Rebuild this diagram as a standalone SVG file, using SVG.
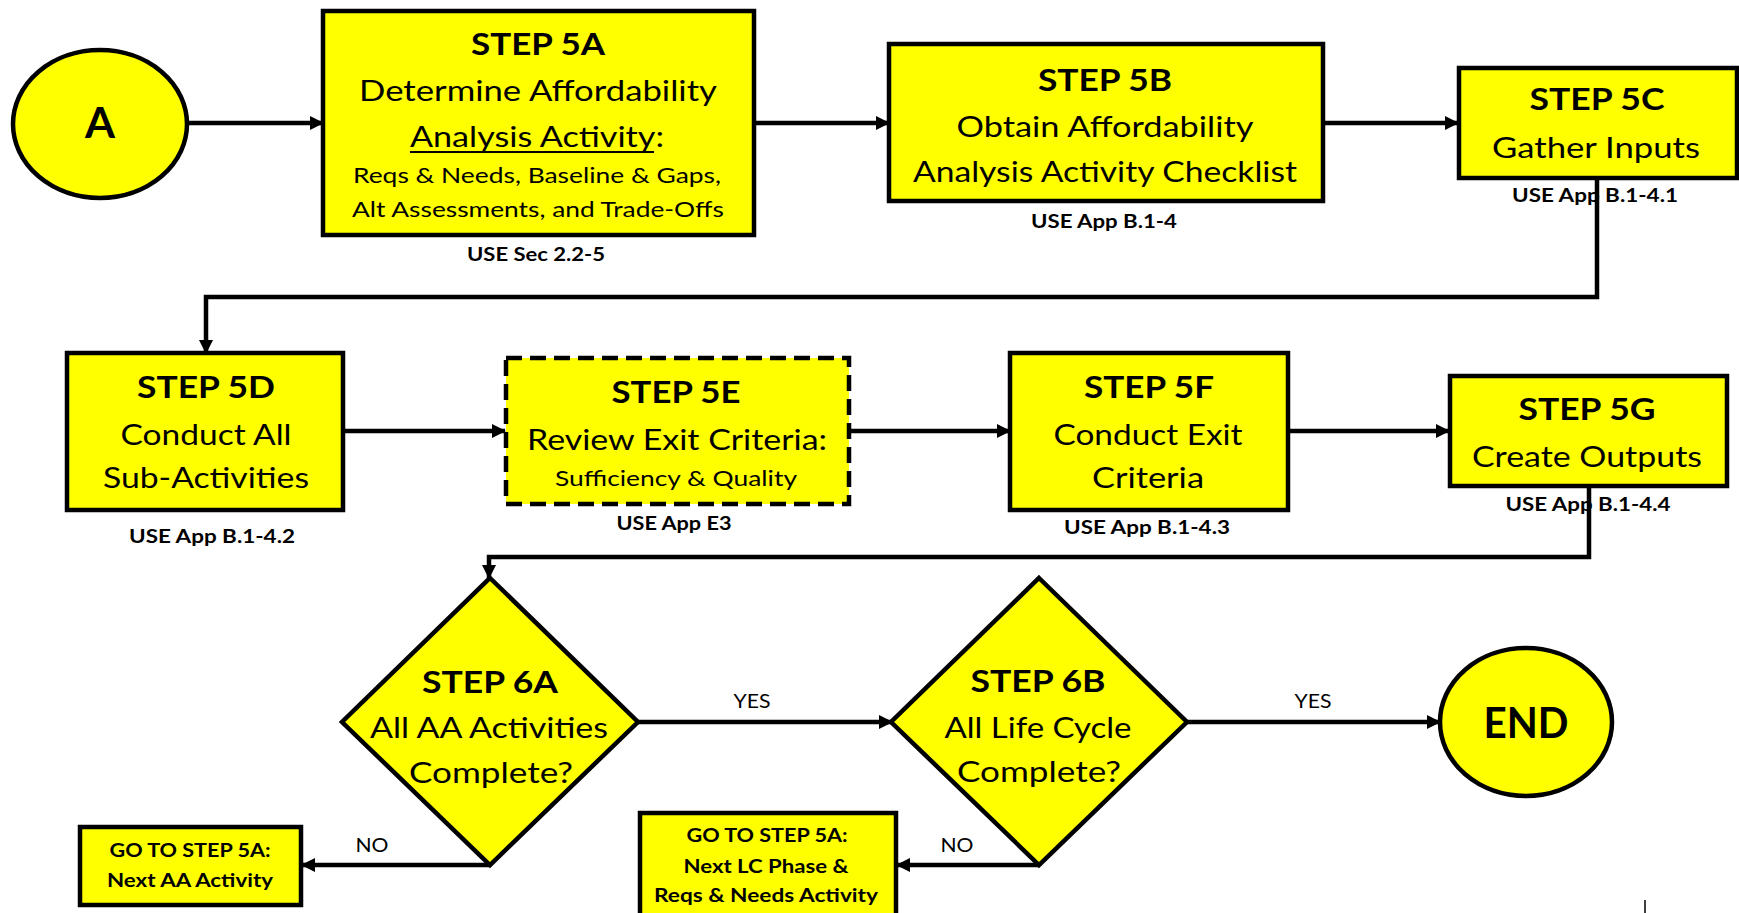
<svg xmlns="http://www.w3.org/2000/svg" width="1739" height="913" viewBox="0 0 1739 913">
<defs>
<marker id="ah" markerUnits="userSpaceOnUse" markerWidth="14" markerHeight="14" refX="13" refY="7" orient="auto">
<path d="M0,0 L14,7 L0,14 z" fill="#000"/>
</marker>
<style>
.n{fill:#FFFF00;stroke:#000;stroke-width:4.5}
.d{fill:#FFFF00;stroke:#000;stroke-width:4.5;stroke-dasharray:16 8}
.c{fill:none;stroke:#000;stroke-width:4.5;marker-end:url(#ah)}
text{font-family:Lato,"Liberation Sans",sans-serif;fill:#000;text-anchor:middle}
.h{font-weight:bold;font-size:31px}
.t{font-size:29px}
.s{font-size:21px}
.u{font-weight:bold;font-size:19.5px}
.g{font-weight:bold;font-size:19px}
.l{font-size:19px}
.e{font-weight:bold;font-size:42px}
</style>
</defs>
<rect width="1739" height="913" fill="#fff"/>
<g id="connectors">
<path class="c" d="M187,123 H323"/>
<path class="c" d="M754,123 H889"/>
<path class="c" d="M1323,123 H1458"/>
<path class="c" d="M1597,178 V297 H206 V353"/>
<path class="c" d="M343,431 H505"/>
<path class="c" d="M848,431 H1010"/>
<path class="c" d="M1288,431 H1449"/>
<path class="c" d="M1589,486 V557 H489 V578"/>
<path class="c" d="M637,722 H892"/>
<path class="c" d="M1187,722 H1440"/>
<path class="c" d="M489,865 H302"/>
<path class="c" d="M1039,865 H897"/>
<text class="l" x="752" y="708" textLength="37" lengthAdjust="spacingAndGlyphs">YES</text>
<text class="l" x="1313" y="708" textLength="37" lengthAdjust="spacingAndGlyphs">YES</text>
<text class="l" x="372" y="852" textLength="33" lengthAdjust="spacingAndGlyphs">NO</text>
<text class="l" x="957" y="852" textLength="33" lengthAdjust="spacingAndGlyphs">NO</text>
</g>
<g id="nodeA">
<ellipse class="n" cx="100" cy="124" rx="87" ry="74" stroke-width="3"/>
<text class="e" x="100" y="138" textLength="30" lengthAdjust="spacingAndGlyphs">A</text>
</g>
<g id="step5A">
<rect class="n" x="323" y="11" width="431" height="224"/>
<text class="h" x="538" y="55" textLength="134" lengthAdjust="spacingAndGlyphs">STEP 5A</text>
<text class="t" x="538" y="101" textLength="358" lengthAdjust="spacingAndGlyphs">Determine Affordability</text>
<text class="t" x="537" y="147" textLength="254" lengthAdjust="spacingAndGlyphs">Analysis Activity:</text>
<line x1="410" y1="152" x2="654" y2="152" stroke="#000" stroke-width="2"/>
<text class="s" x="537" y="183" textLength="368" lengthAdjust="spacingAndGlyphs">Reqs &amp; Needs, Baseline &amp; Gaps,</text>
<text class="s" x="538" y="217" textLength="372" lengthAdjust="spacingAndGlyphs">Alt Assessments, and Trade-Offs</text>
<text class="u" x="536" y="261" textLength="138" lengthAdjust="spacingAndGlyphs">USE Sec 2.2-5</text>
</g>
<g id="step5B">
<rect class="n" x="889" y="44" width="434" height="157"/>
<text class="h" x="1105" y="91" textLength="134" lengthAdjust="spacingAndGlyphs">STEP 5B</text>
<text class="t" x="1105" y="137" textLength="297" lengthAdjust="spacingAndGlyphs">Obtain Affordability</text>
<text class="t" x="1105" y="182" textLength="384" lengthAdjust="spacingAndGlyphs">Analysis Activity Checklist</text>
<text class="u" x="1104" y="228" textLength="146" lengthAdjust="spacingAndGlyphs">USE App B.1-4</text>
</g>
<g id="step5C">
<rect class="n" x="1459" y="68" width="278" height="110"/>
<text class="h" x="1597" y="110" textLength="135" lengthAdjust="spacingAndGlyphs">STEP 5C</text>
<text class="t" x="1596" y="158" textLength="208" lengthAdjust="spacingAndGlyphs">Gather Inputs</text>
<text class="u" x="1595" y="202" textLength="166" lengthAdjust="spacingAndGlyphs">USE App B.1-4.1</text>
</g>
<g id="step5D">
<rect class="n" x="67" y="353" width="276" height="157"/>
<text class="h" x="206" y="398" textLength="138" lengthAdjust="spacingAndGlyphs">STEP 5D</text>
<text class="t" x="206" y="445" textLength="171" lengthAdjust="spacingAndGlyphs">Conduct All</text>
<text class="t" x="206" y="488" textLength="206" lengthAdjust="spacingAndGlyphs">Sub-Activities</text>
<text class="u" x="212" y="543" textLength="166" lengthAdjust="spacingAndGlyphs">USE App B.1-4.2</text>
</g>
<g id="step5E">
<rect class="d" x="506" y="358" width="343" height="146"/>
<text class="h" x="676" y="403" textLength="129" lengthAdjust="spacingAndGlyphs">STEP 5E</text>
<text class="t" x="677" y="450" textLength="300" lengthAdjust="spacingAndGlyphs">Review Exit Criteria:</text>
<text class="s" x="676" y="486" textLength="242" lengthAdjust="spacingAndGlyphs">Sufficiency &amp; Quality</text>
<text class="u" x="674" y="530" textLength="115" lengthAdjust="spacingAndGlyphs">USE App E3</text>
</g>
<g id="step5F">
<rect class="n" x="1010" y="353" width="278" height="157"/>
<text class="h" x="1149" y="398" textLength="130" lengthAdjust="spacingAndGlyphs">STEP 5F</text>
<text class="t" x="1148" y="445" textLength="189" lengthAdjust="spacingAndGlyphs">Conduct Exit</text>
<text class="t" x="1148" y="488" textLength="112" lengthAdjust="spacingAndGlyphs">Criteria</text>
<text class="u" x="1147" y="534" textLength="166" lengthAdjust="spacingAndGlyphs">USE App B.1-4.3</text>
</g>
<g id="step5G">
<rect class="n" x="1450" y="376" width="277" height="110"/>
<text class="h" x="1587" y="420" textLength="137" lengthAdjust="spacingAndGlyphs">STEP 5G</text>
<text class="t" x="1587" y="467" textLength="230" lengthAdjust="spacingAndGlyphs">Create Outputs</text>
<text class="u" x="1588" y="511" textLength="165" lengthAdjust="spacingAndGlyphs">USE App B.1-4.4</text>
</g>
<g id="step6A">
<polygon class="n" points="490,578 638,722 490,865 342,722"/>
<text class="h" x="490" y="693" textLength="136" lengthAdjust="spacingAndGlyphs">STEP 6A</text>
<text class="t" x="489" y="738" textLength="238" lengthAdjust="spacingAndGlyphs">All AA Activities</text>
<text class="t" x="491" y="783" textLength="164" lengthAdjust="spacingAndGlyphs">Complete?</text>
</g>
<g id="step6B">
<polygon class="n" points="1039,578 1187,722 1039,865 891,722"/>
<text class="h" x="1038" y="692" textLength="135" lengthAdjust="spacingAndGlyphs">STEP 6B</text>
<text class="t" x="1038" y="738" textLength="187" lengthAdjust="spacingAndGlyphs">All Life Cycle</text>
<text class="t" x="1039" y="782" textLength="164" lengthAdjust="spacingAndGlyphs">Complete?</text>
</g>
<g id="nodeEND">
<ellipse class="n" cx="1526" cy="722" rx="86" ry="74"/>
<text class="e" x="1526" y="738" textLength="85" lengthAdjust="spacingAndGlyphs">END</text>
</g>
<g id="goto1">
<rect class="n" x="80" y="827" width="221" height="78"/>
<text class="g" x="190" y="857" textLength="161" lengthAdjust="spacingAndGlyphs">GO TO STEP 5A:</text>
<text class="g" x="190" y="887" textLength="166" lengthAdjust="spacingAndGlyphs">Next AA Activity</text>
</g>
<g id="goto2">
<rect class="n" x="640" y="813" width="256" height="112"/>
<text class="g" x="767" y="842" textLength="161" lengthAdjust="spacingAndGlyphs">GO TO STEP 5A:</text>
<text class="g" x="766" y="873" textLength="165" lengthAdjust="spacingAndGlyphs">Next LC Phase &amp;</text>
<text class="g" x="766" y="902" textLength="224" lengthAdjust="spacingAndGlyphs">Reqs &amp; Needs Activity</text>
</g>
<line x1="1645" y1="900" x2="1645" y2="913" stroke="#000" stroke-width="1.5"/>
</svg>
